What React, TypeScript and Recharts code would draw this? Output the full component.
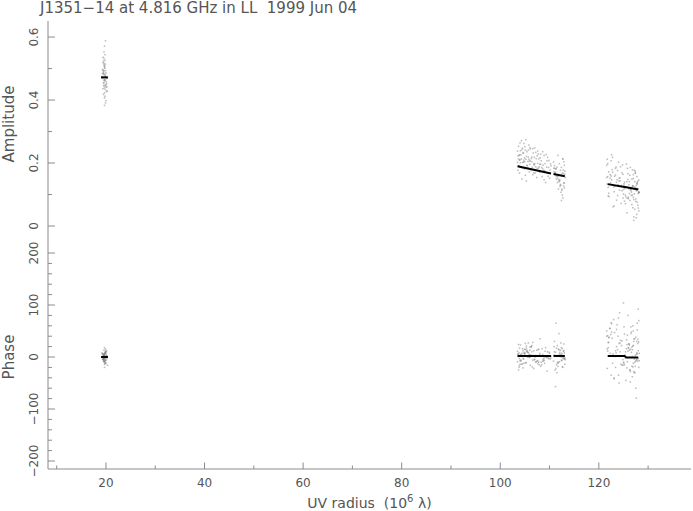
import { ScatterChart, Scatter, XAxis, YAxis } from 'recharts'

// visibilities, grouped by baseline cluster (uv radius in 10^6 lambda)
const uvA = [
  19.4, 19.7, 19.9, 19.5, 20.1, 19.6, 19.8, 19.3, 20.0, 19.7,
  19.5, 19.9, 19.6, 20.2, 19.4, 19.8, 19.7, 19.6, 20.0, 19.5,
  19.8, 19.3, 19.9, 19.7, 20.1, 19.6, 19.4, 19.8, 20.0, 19.5,
  19.7, 19.9, 19.6, 19.2, 19.8, 20.3, 19.5, 19.7, 19.9, 19.6,
  19.4, 20.0, 19.8, 19.6, 19.7, 19.5, 20.1, 19.9, 19.3, 19.8,
  19.6, 19.7, 20.0, 19.4, 19.8, 19.5, 19.9, 19.7, 19.6, 20.2,
]
const ampA = [
  .472, .438, .514, .491, .427, .463, .526, .484, .449, .503,
  .418, .476, .553, .442, .495, .461, .407, .532, .486, .454,
  .501, .469, .433, .571, .458, .517, .436, .482, .398, .524,
  .465, .493, .447, .474, .544, .429, .481, .507, .391, .456,
  .536, .441, .478, .512, .423, .487, .452, .588, .497, .464,
  .444, .509, .471, .519, .412, .485, .446, .383, .494, .468,
]
const phsA = [
  3, -5, 8, -2, 12, -9, 1, 6, -12, 4,
  -3, 10, -7, 2, -1, 7, -14, 5, -6, 0,
  9, -4, 15, -10, 3, -8, 6, -2, 11, -5,
  1, -11, 4, 8, -3, -16, 2, 7, -6, 13,
  -1, 5, -9, 3, 18, -4, 0, -7, 6, -13,
  4, -2, 9, -5, 1, -8, 7, -20, 2, -3,
]

const uvB = [
  103.6, 104.2, 105.1, 103.9, 106.3, 104.8, 107.5, 105.6, 108.2, 104.4,
  106.9, 103.7, 105.9, 109.1, 104.0, 107.2, 105.3, 108.8, 106.1, 103.8,
  104.6, 109.7, 105.0, 107.8, 106.6, 104.3, 108.4, 105.7, 110.1, 106.0,
  103.5, 107.0, 104.9, 108.9, 105.4, 106.8, 104.1, 109.4, 107.4, 105.2,
  108.0, 103.9, 106.4, 104.7, 109.9, 105.8, 107.6, 104.5, 108.6, 106.2,
  103.7, 105.5, 107.1, 109.2, 104.2, 106.7, 108.3, 105.1, 110.2, 104.8,
  107.9, 106.0, 103.6, 108.7, 105.3, 107.3, 104.4, 109.6, 106.5, 105.9,
  108.1, 104.0, 107.7, 105.6, 109.0, 103.8, 106.9, 104.6, 108.5, 107.0,
  105.0, 109.8, 106.3, 104.3, 108.0, 105.7, 107.5, 103.5, 109.3, 106.1,
  104.9, 108.9, 105.4, 107.2, 110.0, 104.1, 106.6, 108.2, 105.2, 107.8,
  104.7, 106.4, 109.5, 105.8, 103.9, 107.6, 108.6, 104.5, 106.8, 110.3,
  110.9, 111.6, 112.4, 113.0, 111.2, 112.7, 111.9, 112.2, 110.8, 112.9,
  111.4, 112.5, 113.1, 111.0, 112.0, 112.8, 111.7, 112.3, 111.3, 113.2,
  112.6, 111.1, 112.1, 112.9, 111.8, 110.9, 112.4, 113.0, 111.5, 112.7,
  111.2, 112.2, 112.8, 111.6, 113.1, 112.0, 111.9, 112.5, 111.0, 112.6,
  111.4, 113.0, 112.3, 111.7, 112.9, 111.3, 112.1, 112.7, 111.8, 112.4,
]
const ampB = [
  .223, .187, .241, .168, .214, .262, .183, .205, .228, .149,
  .194, .253, .172, .198, .211, .234, .143, .176, .245, .192,
  .231, .158, .204, .213, .163, .271, .186, .219, .178, .196,
  .202, .248, .181, .224, .236, .197, .239, .187, .154, .212,
  .171, .226, .219, .203, .208, .257, .199, .184, .236, .179,
  .213, .191, .168, .138, .226, .232, .207, .161, .197, .209,
  .188, .249, .177, .193, .221, .214, .243, .218, .186, .206,
  .217, .264, .229, .183, .176, .224, .218, .202, .157, .198,
  .252, .186, .179, .213, .196, .241, .223, .238, .227, .207,
  .216, .147, .193, .188, .152, .201, .246, .196, .274, .184,
  .233, .204, .207, .212, .209, .238, .182, .247, .169, .191,
  .172, .138, .186, .121, .163, .213, .148, .177, .203, .127,
  .158, .113, .174, .192, .141, .167, .224, .129, .181, .154,
  .098, .169, .146, .204, .118, .183, .161, .136, .187, .089,
  .171, .132, .178, .153, .164, .198, .143, .117, .184, .168,
  .149, .193, .107, .158, .137, .182, .126, .213, .162, .081,
]
const phsB = [
  5, -8, 14, -3, 20, -12, 2, 9, -18, 7,
  -5, 24, -1, 11, -14, 3, 17, -7, 0, -20,
  12, -2, 6, -10, 28, 4, -15, 8, -4, 19,
  -9, 1, 15, -6, 10, -22, 5, -1, 13, -11,
  7, -17, 22, -3, 9, 2, -13, 16, -8, 4,
  -25, 11, 0, 18, -6, 3, -10, 26, -2, 8,
  -15, 13, 6, -4, 21, -9, 1, 10, -19, 5,
  35, -7, 14, -1, -12, 8, 2, -21, 16, -5,
  9, -3, 19, -14, 4, 27, -8, 11, 0, -16,
  6, -2, 13, -10, 7, 23, -6, 2, -11, 15,
  -4, 10, -27, 3, 17, -7, 5, -13, 12, 1,
  4, -12, 18, -3, 9, -20, 14, 1, -8, 25,
  -15, 7, -2, 30, -9, 11, -18, 5, 65, -5,
  16, -25, 2, 12, -11, 20, -6, 8, -30, 3,
  -57, 13, -1, 22, -14, 6, 45, -7, 10, -19,
  17, -4, 27, -10, 1, -22, 9, -3, 15, 0,
]

const uvC = [
  121.7, 123.4, 125.8, 127.6, 122.5, 126.9, 124.3, 127.9, 122.0, 125.2,
  127.3, 123.8, 126.4, 128.1, 121.9, 124.9, 127.0, 122.8, 126.1, 127.7,
  123.1, 125.6, 128.0, 122.3, 126.7, 124.6, 127.4, 121.6, 125.0, 127.8,
  123.6, 126.3, 128.2, 122.6, 125.4, 127.1, 124.1, 126.8, 122.1, 127.5,
  125.9, 123.3, 127.9, 124.7, 126.5, 121.8, 127.2, 125.1, 122.9, 128.1,
  124.4, 126.0, 127.6, 123.0, 125.7, 127.0, 122.4, 126.6, 124.0, 127.8,
  125.3, 121.9, 127.4, 123.7, 126.2, 128.0, 122.7, 125.5, 126.9, 124.2,
  127.3, 123.2, 126.4, 121.7, 127.7, 125.0, 124.8, 127.1, 122.2, 126.7,
  128.2, 123.9, 125.9, 127.5, 122.5, 126.1, 124.5, 127.9, 123.5, 126.8,
  121.6, 125.6, 127.2, 124.0, 126.3, 128.1, 122.8, 125.2, 127.6, 123.4,
  126.5, 124.9, 127.0, 122.0, 125.8, 127.8, 123.1, 126.6, 124.3, 127.4,
  126.0, 122.6, 127.3, 125.4, 121.8, 126.9, 124.7, 127.7, 123.6, 126.2,
  125.1, 127.5, 122.3, 126.4, 124.1, 128.0, 123.8, 125.7, 127.1, 126.8,
]
const ampC = [
  .134, .183, .088, .112, .207, .058, .153, .118, .172, .079,
  .141, .097, .186, .048, .123, .164, .091, .218, .131, .037,
  .109, .197, .103, .152, .068, .129, .174, .193, .116, .138,
  .082, .161, .107, .226, .098, .029, .143, .178, .093, .121,
  .148, .127, .066, .169, .113, .157, .102, .134, .061, .146,
  .188, .087, .129, .124, .042, .163, .137, .108, .203, .076,
  .119, .096, .168, .147, .141, .057, .179, .092, .128, .114,
  .053, .158, .121, .212, .136, .101, .194, .084, .132, .149,
  .107, .131, .166, .086, .159, .118, .072, .142, .187, .098,
  .154, .123, .177, .128, .081, .106, .171, .139, .026, .162,
  .117, .089, .151, .104, .183, .133, .064, .097, .144, .168,
  .092, .147, .124, .071, .198, .127, .112, .157, .139, .103,
  .129, .078, .163, .116, .152, .109, .176, .141, .018, .126,
]
const phsC = [
  15, -20, 42, 5, -35, 60, 10, -8, 28, -15,
  35, 2, -28, 70, 18, -5, 50, -12, 25, 8,
  -40, 33, 12, 55, -18, 22, 3, 40, -10, 65,
  20, -25, 7, 48, -2, 30, -50, 14, 38, -8,
  80, 1, 26, -15, 45, 11, -30, 58, 6, -20,
  32, 17, -6, 72, 24, -12, 43, 9, -35, 52,
  4, 28, -18, 62, 13, -3, 36, -45, 21, 85,
  -10, 47, 15, -22, 30, 104, 2, -28, 55, 19,
  -7, 40, 11, -60, 66, 25, -14, 34, 8, -38,
  50, 16, -4, 75, -25, 29, 3, 44, -79, 12,
  58, -16, 22, 37, -9, 6, -42, 48, 27, -1,
  18, 64, -30, 10, 41, -19, 31, -5, 53, 23,
  -12, 38, 7, -48, 26, 92, 14, -21, 35, 1,
]

// model (black segments)
const modelUvA = [19.0, 20.4]
const modelAmpA = [0.472, 0.472]
const modelPhsA = [0, 0]
const modelUvB1 = [103.5, 110.3]
const modelAmpB1 = [0.19, 0.167]
const modelPhsB1 = [2, 2]
const modelUvB2 = [110.8, 113.1]
const modelAmpB2 = [0.165, 0.158]
const modelPhsB2 = [2, 2]
const modelUvC = [121.8, 125.2, 125.6, 128.0]
const modelAmpC = [0.133, 0.124, 0.123, 0.116]
const modelPhsC = [2, 2, -1, -1]

const X_DOMAIN = [8.24, 138.7]
const xTicks = [10, 20, 30, 40, 50, 60, 70, 80, 90, 100, 110, 120, 130]
const xLabels = [20, 40, 60, 80, 100, 120]
const AMP_DOMAIN = [-0.0603, 0.651]
const ampTicks = [0, 0.1, 0.2, 0.3, 0.4, 0.5, 0.6]
const ampLabels = [0, 0.2, 0.4, 0.6]
const PHS_DOMAIN = [-215.4, 215.4]
const phsTicks = [-200, -180, -160, -140, -120, -100, -80, -60, -40, -20, 0, 20, 40, 60, 80, 100, 120, 140, 160, 180, 200]
const phsLabels = [-200, -100, 0, 100, 200]

const GRAY = '#8c8c8c'
const TXT = '#555'
const FONT = '"DejaVu Sans", sans-serif'

const toPts = (xs: number[], ys: number[]) => xs.map((x, i) => ({ x, y: ys[i] }))
const isMajor = (v: number, majors: number[]) => majors.some(m => Math.abs(m - v) < 1e-9)
const fmtAmp = (v: number) => (v === 0 ? '0' : v.toFixed(1))
const fmtPhs = (v: number) => (v < 0 ? `\u2212${-v}` : `${v}`)

const Dot = (p: any) => (
  <rect x={p.cx - 0.75} y={p.cy - 0.75} width={1.5} height={1.5} fill="#7a7a7a" fillOpacity={0.5} />
)
const Blank = () => <g />

const XTick = (p: any) => {
  const { x, y, payload, dir, labels } = p
  const major = isMajor(payload.value, xLabels)
  return (
    <g>
      <line x1={x} x2={x} y1={y} y2={y + dir * (major ? 6.5 : 3.5)} stroke={GRAY} />
      {labels && major && (
        <text x={x} y={y + 13.5} dy="0.35em" textAnchor="middle" fill={TXT} fontSize={12} fontFamily={FONT}>
          {payload.value}
        </text>
      )}
    </g>
  )
}

const YTick = (p: any) => {
  const { x, y, payload, dir, majors, fmt } = p
  const major = isMajor(payload.value, majors)
  const lx = x - 14
  return (
    <g>
      <line x1={x} x2={x + dir * (major ? 7 : 4)} y1={y} y2={y} stroke={GRAY} />
      {fmt && major && (
        <text x={lx} y={y} dy="0.35em" transform={`rotate(-90 ${lx} ${y})`} textAnchor="middle"
          fill={TXT} fontSize={12} fontFamily={FONT}>
          {fmt(payload.value)}
        </text>
      )}
    </g>
  )
}

const YTitle = (p: any) => {
  const vb = p.viewBox
  const cx = vb.x + 1
  const cy = vb.y + vb.height / 2 + (p.shift || 0)
  return (
    <text x={cx} y={cy} dy="0.35em" transform={`rotate(-90 ${cx} ${cy})`} textAnchor="middle"
      fill={TXT} fontSize={15} fontFamily={FONT}>
      {p.text}
    </text>
  )
}

const XTitle = (p: any) => {
  const vb = p.viewBox
  const cx = vb.x + vb.width / 2
  return (
    <text x={cx} y={vb.y + 34} dy="0.35em" textAnchor="middle" fill={TXT} fontSize={14} fontFamily={FONT}
      style={{ whiteSpace: 'pre' }}>
      UV radius  (10<tspan dy={-6} fontSize={10}>6</tspan><tspan dy={6}> λ)</tspan>
    </text>
  )
}

function Panel(props: any) {
  const { height, margin, yDomain, yTicks, yLabels, yFmt, yTitle, titleShift, bottomLabels, points, lines } = props
  return (
    <ScatterChart width={693} height={height} margin={margin}>
      <XAxis xAxisId="b" type="number" dataKey="x" orientation="bottom" domain={X_DOMAIN} ticks={xTicks}
        interval={0} allowDataOverflow height={bottomLabels ? 42 : 0} axisLine={{ stroke: GRAY }}
        tickLine={false} tickSize={0} tickMargin={0} tick={<XTick dir={-1} labels={bottomLabels} />}
        label={bottomLabels ? <XTitle /> : undefined} />
      <XAxis xAxisId="t" type="number" dataKey="x" orientation="top" domain={X_DOMAIN} ticks={xTicks}
        interval={0} allowDataOverflow height={0} axisLine={{ stroke: GRAY }}
        tickLine={false} tickSize={0} tickMargin={0} tick={<XTick dir={1} labels={false} />} />
      <YAxis yAxisId="l" type="number" dataKey="y" domain={yDomain} ticks={yTicks} interval={0}
        allowDataOverflow width={40} axisLine={{ stroke: GRAY }} tickLine={false} tickSize={0} tickMargin={0}
        tick={<YTick dir={1} majors={yLabels} fmt={yFmt} />} label={<YTitle text={yTitle} shift={titleShift} />} />
      <YAxis yAxisId="r" type="number" dataKey="y" orientation="right" domain={yDomain} ticks={yTicks}
        interval={0} allowDataOverflow width={0} axisLine={{ stroke: GRAY }} tickLine={false} tickSize={0}
        tickMargin={0} tick={<YTick dir={-1} majors={yLabels} />} />
      {points.map((d: any, i: number) => (
        <Scatter key={'p' + i} xAxisId="b" yAxisId="l" data={d} shape={Dot} isAnimationActive={false} />
      ))}
      {lines.map((d: any, i: number) => (
        <Scatter key={'m' + i} xAxisId="t" yAxisId="r" data={d} line={{ stroke: '#000', strokeWidth: 2 }}
          shape={Blank} isAnimationActive={false} />
      ))}
    </ScatterChart>
  )
}

export default function App() {
  const ampPts = [toPts(uvA, ampA), toPts(uvB, ampB), toPts(uvC, ampC)]
  const phsPts = [toPts(uvA, phsA), toPts(uvB, phsB), toPts(uvC, phsC)]
  const ampLines = [
    toPts(modelUvA, modelAmpA), toPts(modelUvB1, modelAmpB1), toPts(modelUvB2, modelAmpB2), toPts(modelUvC, modelAmpC),
  ]
  const phsLines = [
    toPts(modelUvA, modelPhsA), toPts(modelUvB1, modelPhsB1), toPts(modelUvB2, modelPhsB2), toPts(modelUvC, modelPhsC),
  ]
  return (
    <div style={{ position: 'absolute', left: 0, top: 0, width: 693, height: 511, background: '#fff', overflow: 'hidden' }}>
      <div style={{ position: 'absolute', left: 40, top: 1, fontFamily: FONT, fontSize: 15, lineHeight: '15px', color: TXT, whiteSpace: 'pre' }}>
        J1351−14 at 4.816 GHz in LL  1999 Jun 04
      </div>
      <div style={{ position: 'absolute', left: 0, top: 0 }}>
        <Panel height={245} margin={{ top: 21, right: 2, bottom: 0, left: 8 }} yDomain={AMP_DOMAIN}
          yTicks={ampTicks} yLabels={ampLabels} yFmt={fmtAmp} yTitle="Amplitude" titleShift={-9}
          bottomLabels={false} points={ampPts} lines={ampLines} />
      </div>
      <div style={{ position: 'absolute', left: 0, top: 240 }}>
        <Panel height={271} margin={{ top: 5, right: 2, bottom: 0, left: 8 }} yDomain={PHS_DOMAIN}
          yTicks={phsTicks} yLabels={phsLabels} yFmt={fmtPhs} yTitle="Phase" titleShift={0}
          bottomLabels={true} points={phsPts} lines={phsLines} />
      </div>
    </div>
  )
}
